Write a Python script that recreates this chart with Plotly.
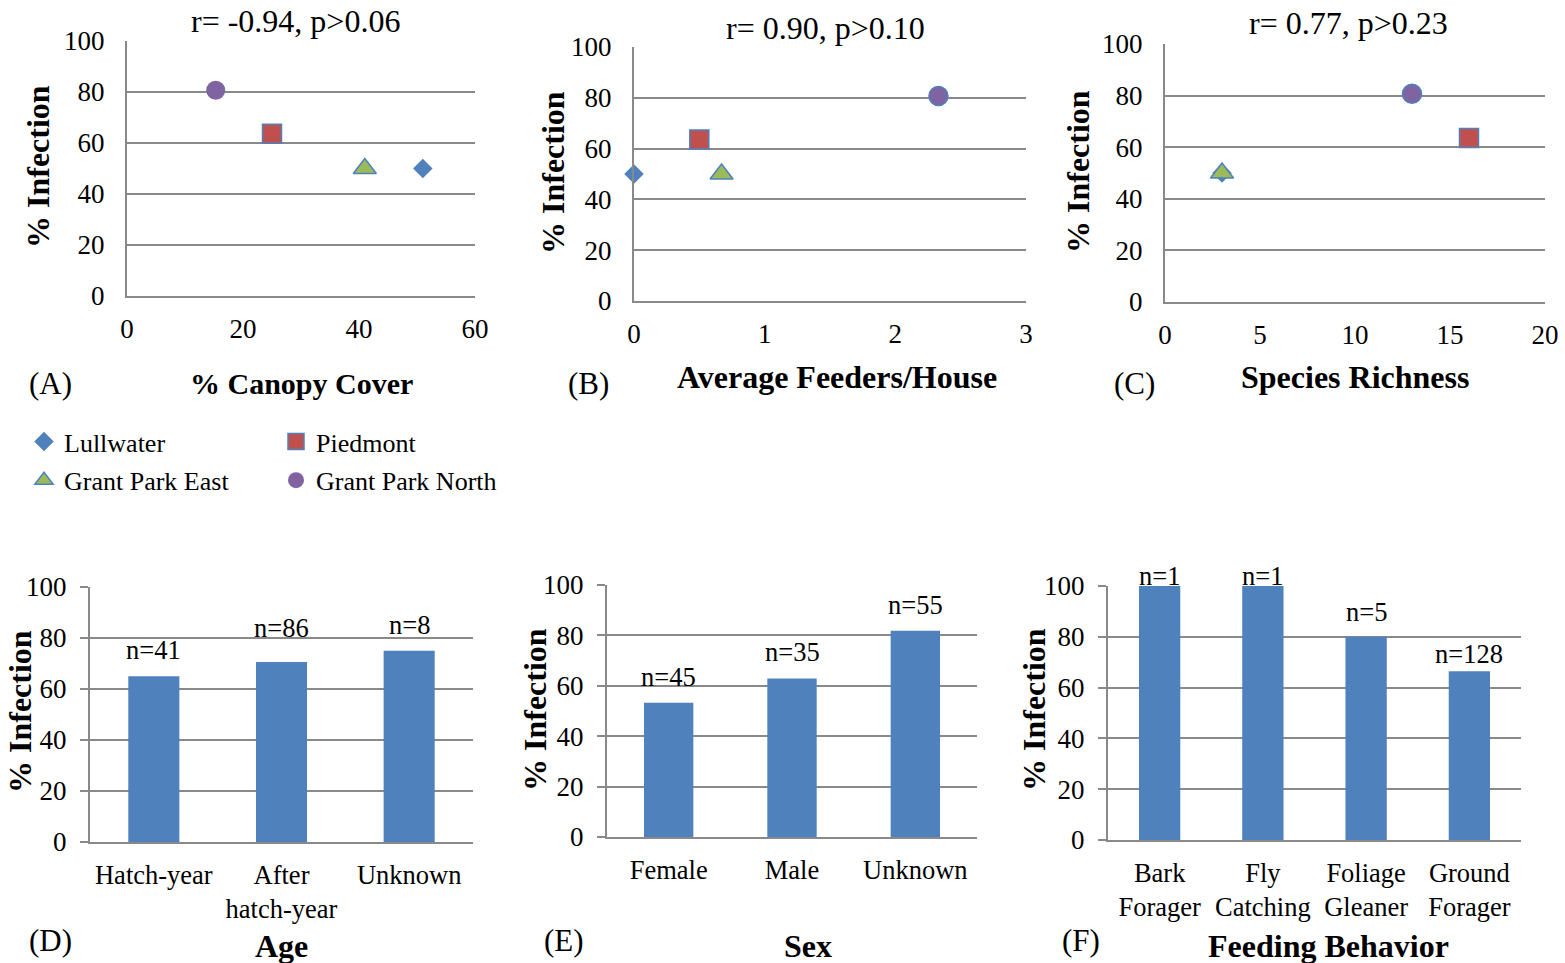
import plotly.graph_objects as go

# ---------------- data ----------------
sites = ["Lullwater", "Piedmont", "Grant Park East", "Grant Park North"]
site_infection = [50.0, 63.6, 50.0, 80.7]
canopy_cover = [51.0, 25.0, 41.0, 15.3]
feeders_per_house = [0.0, 0.5, 0.67, 2.33]
species_richness = [3.0, 16.0, 3.0, 13.0]

age_cats = ["Hatch-year", "After<br>hatch-year", "Unknown"]
age_vals = [65.0, 70.6, 75.0]
age_n = ["n=41", "n=86", "n=8"]

sex_cats = ["Female", "Male", "Unknown"]
sex_vals = [53.3, 62.9, 81.8]
sex_n = ["n=45", "n=35", "n=55"]

feed_cats = ["Bark<br>Forager", "Fly<br>Catching", "Foliage<br>Gleaner", "Ground<br>Forager"]
feed_vals = [100.0, 100.0, 80.0, 66.4]
feed_n = ["n=1", "n=1", "n=5", "n=128"]

scatter_titles = ["r= -0.94, p>0.06", "r= 0.90, p>0.10", "r= 0.77, p>0.23"]

# ---------------- styles ----------------
W, H = 1565, 963
FONT = "Liberation Serif, Times New Roman, serif"
GRID = "#898989"
BLUE = "#4F81BD"
site_symbols = ["diamond", "square", "triangle-up", "circle"]
site_colors = ["#4F81BD", "#C0504D", "#9BBB59", "#8064A2"]
site_sizes = [15, 19, 20, 19]


def fx(px):
    return px / W


def fy(py):
    return 1 - py / H


fig = go.Figure()

# panel boxes in pixels: (left, right, top, bottom)
boxes = {
    "A": (127, 475, 41, 296),
    "B": (634, 1026, 47, 301),
    "C": (1165, 1545, 44, 302),
    "D": (90, 473, 587, 842),
    "E": (607, 977, 585, 837),
    "F": (1108, 1521, 586, 840),
}
order = ["A", "B", "C", "D", "E", "F"]

axis_font = dict(family=FONT, size=27, color="black")

for i, key in enumerate(order):
    l, r, t, b = boxes[key]
    n = "" if i == 0 else str(i + 1)
    is_bar = key in ("D", "E", "F")
    xa = dict(
        domain=[fx(l), fx(r)], anchor="y" + n, automargin=False,
        showline=True, linecolor=GRID, linewidth=2,
        showgrid=False, zeroline=False, ticks="",
        tickfont=dict(family=FONT, size=27 if not is_bar else 26.5, color="black"),
        ticklabelstandoff=8,
        fixedrange=True,
    )
    ya = dict(
        domain=[fy(b), fy(t)], anchor="x" + n, automargin=False,
        range=[0, 100], dtick=20, tick0=0,
        showline=True, linecolor=GRID, linewidth=2,
        showgrid=True, gridcolor=GRID, gridwidth=2,
        zeroline=False, tickfont=axis_font, fixedrange=True,
    )
    if is_bar:
        ya.update(ticks="outside", ticklen=8, tickcolor=GRID, tickwidth=2, ticklabelstandoff=8)
    else:
        ya.update(ticks="", ticklabelstandoff=15)
    fig.layout["xaxis" + n] = xa
    fig.layout["yaxis" + n] = ya

fig.layout.xaxis.update(range=[0, 60], dtick=20)
fig.layout.xaxis2.update(range=[0, 3], dtick=1)
fig.layout.xaxis3.update(range=[0, 20], dtick=5)

# ---------------- scatter panels ----------------
xs_sets = [canopy_cover, feeders_per_house, species_richness]
for p, xs in enumerate(xs_sets):
    n = "" if p == 0 else str(p + 1)
    for s in range(len(sites)):
        border = 0 if s == 0 or (p == 0 and s == 3) else 1.5
        fig.add_trace(go.Scatter(
            x=[xs[s]], y=[site_infection[s]], mode="markers",
            name=sites[s], legendgroup=sites[s], showlegend=(p == 0),
            legend="legend" if s in (0, 2) else "legend2",
            marker=dict(symbol=site_symbols[s], color=site_colors[s], size=site_sizes[s],
                        line=dict(color=BLUE, width=border)),
            cliponaxis=False,
            xaxis="x" + n, yaxis="y" + n,
        ))

# ---------------- bar panels ----------------
bar_sets = [(age_cats, age_vals, age_n, "4"), (sex_cats, sex_vals, sex_n, "5"),
            (feed_cats, feed_vals, feed_n, "6")]
label_offsets = [[26, 34, 26], [26, 26, 26], [10, 10, 25, 17]]
for (cats, vals, labels, n), offs in zip(bar_sets, label_offsets):
    fig.add_trace(go.Bar(x=cats, y=vals, marker=dict(color=BLUE, line=dict(width=0)),
                         showlegend=False, xaxis="x" + n, yaxis="y" + n))
    for c, v, lab, o in zip(cats, vals, labels, offs):
        fig.add_annotation(x=c, y=v, xref="x" + n, yref="y" + n, text=lab, showarrow=False,
                           yanchor="middle", yshift=o, font=dict(family=FONT, size=26.5, color="black"))

# ---------------- text annotations ----------------
def txt(text, px, py, size=25, bold=False, angle=0, xanchor="center"):
    fig.add_annotation(text=f"<b>{text}</b>" if bold else text, x=fx(px), y=fy(py),
                       xref="paper", yref="paper", showarrow=False, textangle=angle,
                       xanchor=xanchor, yanchor="middle", borderpad=0,
                       font=dict(family=FONT, size=size, color="black"))

# scatter titles
txt(scatter_titles[0], 295, 21, size=32)
txt(scatter_titles[1], 825, 28, size=32)
txt(scatter_titles[2], 1348, 23, size=32)

# y axis titles
for px, py in [(38, 167), (553, 173), (1078, 172), (20, 712), (535, 710), (1034, 710)]:
    txt("% Infection", px, py, size=32, bold=True, angle=-90)

# x axis titles
txt("% Canopy Cover", 301, 383, size=30, bold=True)
txt("Average Feeders/House", 837, 377, size=32, bold=True)
txt("Species Richness", 1355, 377, size=32, bold=True)
txt("Age", 281, 946, size=32, bold=True)
txt("Sex", 808, 946, size=32, bold=True)
txt("Feeding Behavior", 1328, 946, size=32, bold=True)

# panel letters
for lab, px, py in [("(A)", 50, 383), ("(B)", 588, 383), ("(C)", 1134, 383),
                    ("(D)", 50, 940), ("(E)", 564, 940), ("(F)", 1081, 940)]:
    txt(lab, px, py, size=31)

legend_common = dict(
    orientation="v", xanchor="left", yanchor="top", bgcolor="rgba(0,0,0,0)",
    font=dict(family=FONT, size=26, color="black"), tracegroupgap=2,
    itemwidth=30, borderwidth=0,
)
fig.update_layout(
    template="none",
    width=W, height=H,
    margin=dict(l=0, r=0, t=0, b=0),
    paper_bgcolor="white", plot_bgcolor="white",
    bargap=0.6,
    font=dict(family=FONT, size=25, color="black"),
    legend=dict(x=fx(24), y=fy(418), **legend_common),
    legend2=dict(x=fx(276), y=fy(418), **legend_common),
)

fig.write_html("out.html")
